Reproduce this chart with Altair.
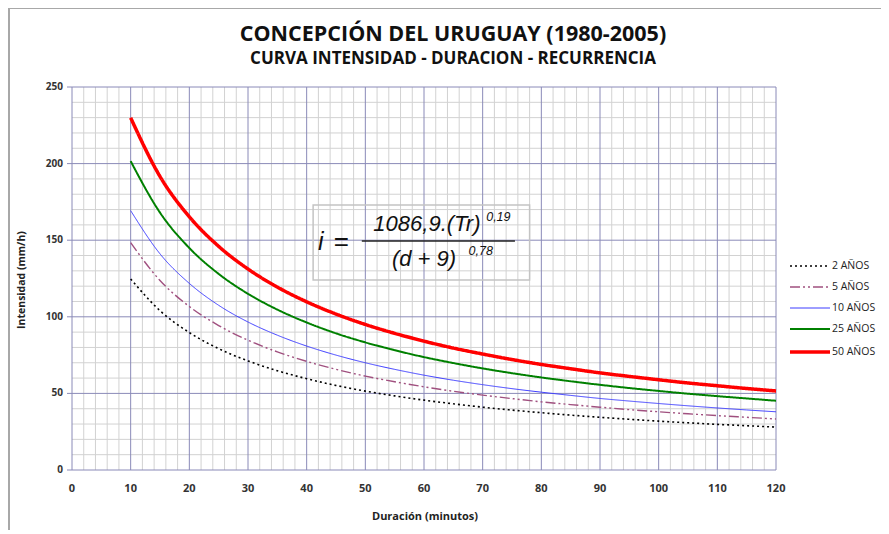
import altair as alt
import pandas as pd

# ---- data ----
durations = [10, 15, 20, 25, 30, 35, 40, 45, 50, 55, 60, 65, 70, 75, 80, 85, 90, 95, 100, 105, 110, 115, 120]
i_2 = [124.7, 104.0, 89.7, 79.2, 71.2, 64.8, 59.6, 55.2, 51.5, 48.4, 45.6, 43.2, 41.0, 39.1, 37.4, 35.8, 34.4, 33.1, 31.9, 30.8, 29.8, 28.9, 28.0]
i_5 = [148.4, 123.7, 106.7, 94.3, 84.7, 77.1, 70.9, 65.7, 61.3, 57.6, 54.3, 51.4, 48.9, 46.6, 44.5, 42.7, 41.0, 39.4, 38.0, 36.7, 35.5, 34.4, 33.3]
i_10 = [169.3, 141.1, 121.8, 107.5, 96.6, 88.0, 80.9, 75.0, 70.0, 65.7, 61.9, 58.6, 55.7, 53.1, 50.8, 48.7, 46.7, 45.0, 43.4, 41.9, 40.5, 39.2, 38.0]
i_25 = [201.6, 168.0, 144.9, 128.0, 115.0, 104.7, 96.3, 89.2, 83.3, 78.2, 73.7, 69.8, 66.3, 63.2, 60.4, 57.9, 55.6, 53.5, 51.6, 49.8, 48.2, 46.7, 45.2]
i_50 = [229.9, 191.6, 165.3, 146.0, 131.2, 119.4, 109.8, 101.8, 95.0, 89.2, 84.1, 79.6, 75.7, 72.1, 68.9, 66.1, 63.4, 61.1, 58.9, 56.8, 55.0, 53.2, 51.6]
series_names = ["2 AÑOS", "5 AÑOS", "10 AÑOS", "25 AÑOS", "50 AÑOS"]

x_major = list(range(0, 121, 10))
x_minor = [v for v in range(0, 121, 2) if v % 10]
y_major = list(range(0, 251, 50))
y_minor = [v for v in range(0, 251, 10) if v % 50]

title_text = "CONCEPCIÓN DEL URUGUAY (1980-2005)"
subtitle_text = "CURVA INTENSIDAD - DURACION - RECURRENCIA"
x_title = "Duración (minutos)"
y_title = "Intensidad (mm/h)"

# ---- styles ----
colors = ["#000000", "#a0507f", "#3c3cff", "#008000", "#ff0000"]
dashes = [[2, 3], [10, 3, 2, 3, 2, 3], [1, 0], [1, 0], [1, 0]]
widths = [1.6, 1.4, 1.0, 2.0, 3.5]
MAJOR = "#8a8ab8"
MINOR = "#d2d2d2"
LABEL_FONT = "Open Sans"
TEXT_COLOR = "#333333"

rows = []
for name, vals, w in zip(series_names, [i_2, i_5, i_10, i_25, i_50], widths):
    for d, v in zip(durations, vals):
        rows.append({"d": d, "i": v, "serie": name, "w": w})
df = pd.DataFrame(rows)

xs = alt.Scale(domain=[0, 120], nice=False, zero=False)
ys = alt.Scale(domain=[0, 250], nice=False)

# ---- grid (rules from the tick lists) ----
def vgrid(vals, color):
    return alt.Chart(pd.DataFrame({"v": vals})).mark_rule(color=color, strokeWidth=1).encode(
        x=alt.X("v:Q", scale=xs, axis=None))

def hgrid(vals, color):
    return alt.Chart(pd.DataFrame({"v": vals})).mark_rule(color=color, strokeWidth=1).encode(
        y=alt.Y("v:Q", scale=ys, axis=None))

grid = [vgrid(x_minor, MINOR), hgrid(y_minor, MINOR), vgrid(x_major, MAJOR), hgrid(y_major, MAJOR)]

# ---- axis labels, ticks and titles (positioned through the scales) ----
x_lab = alt.Chart(pd.DataFrame({"v": x_major})).mark_text(
    font=LABEL_FONT, fontSize=11, fontWeight="bold", color=TEXT_COLOR, baseline="middle", align="center"
).encode(x=alt.X("v:Q", scale=xs, axis=None), y=alt.value(402), text=alt.Text("v:Q", format="d"))

y_lab = alt.Chart(pd.DataFrame({"v": y_major})).mark_text(
    font=LABEL_FONT, fontSize=10, fontWeight="bold", color=TEXT_COLOR, baseline="middle", align="right"
).encode(y=alt.Y("v:Q", scale=ys, axis=None), x=alt.value(-9), text=alt.Text("v:Q", format="d"))

y_ticks = alt.Chart(pd.DataFrame({"v": y_major})).mark_rule(color=MAJOR, strokeWidth=1).encode(
    y=alt.Y("v:Q", scale=ys, axis=None), x=alt.value(-5), x2=alt.value(0))

x_title_mark = alt.Chart(pd.DataFrame({"t": [x_title]})).mark_text(
    font=LABEL_FONT, fontSize=11, fontWeight="bold", color="#222222", align="center", baseline="middle"
).encode(x=alt.value(353), y=alt.value(430), text="t:N")

y_title_mark = alt.Chart(pd.DataFrame({"t": [y_title]})).mark_text(
    font=LABEL_FONT, fontSize=10.5, fontWeight="bold", color="#222222", align="center", baseline="middle",
    angle=270
).encode(x=alt.value(-50), y=alt.value(193), text="t:N")

# ---- curves ----
width_expr = "[" + ",".join(str(w) for w in widths) + "][indexof([" + ",".join(
    "'" + s + "'" for s in series_names) + "], datum.value)]"

leg = alt.Legend(orient="none", legendX=760, legendY=179, title=None,
                 symbolType="M-4.2,0L-0.2,0", symbolSize=400, labelOffset=0,
                 labelFont=LABEL_FONT, labelFontSize=10.5, labelColor="#222222", rowPadding=10,
                 symbolStrokeWidth=alt.ExprRef(expr=width_expr))

lines = alt.Chart(df).mark_line(interpolate="monotone").encode(
    x=alt.X("d:Q", scale=xs, axis=None),
    y=alt.Y("i:Q", scale=ys, axis=None),
    color=alt.Color("serie:N", scale=alt.Scale(domain=series_names, range=colors), legend=leg),
    strokeDash=alt.StrokeDash("serie:N", scale=alt.Scale(domain=series_names, range=dashes), legend=leg),
    strokeWidth=alt.StrokeWidth("w:Q", scale=None),
)

# ---- formula annotation (in data coordinates) ----
box = alt.Chart(pd.DataFrame({"x": [41.1], "x2": [78.0], "y": [173.0], "y2": [124.0]})).mark_rect(
    fill="transparent", stroke="#c4c4c4", strokeWidth=1.5
).encode(x=alt.X("x:Q", scale=xs, axis=None), x2="x2:Q", y=alt.Y("y:Q", scale=ys, axis=None), y2="y2:Q")

frac = alt.Chart(pd.DataFrame({"x": [49.4], "x2": [75.5], "y": [149.5]})).mark_rule(
    color="#222222", strokeWidth=1.6
).encode(x=alt.X("x:Q", scale=xs, axis=None), x2="x2:Q", y=alt.Y("y:Q", scale=ys, axis=None))

formula_parts = pd.DataFrame({
    "t": ["i", "=", "1086,9.(Tr)", "0,19", "(d + 9)", "0,78"],
    "x": [42.4, 45.9, 60.5, 70.6, 60.0, 67.6],
    "y": [148.6, 148.6, 160.6, 165.3, 137.7, 143.0],
    "s": [25, 26, 22, 12.5, 22, 12.5],
    "a": ["center", "center", "center", "left", "center", "left"],
})

def ftext(k):
    r = formula_parts.iloc[k:k + 1]
    row = r.iloc[0]
    return alt.Chart(r).mark_text(
        font="Liberation Sans", fontStyle="normal" if row["t"] == "=" else "italic",
        fontSize=float(row["s"]), align=row["a"], baseline="middle", color="#111111"
    ).encode(x=alt.X("x:Q", scale=xs, axis=None), y=alt.Y("y:Q", scale=ys, axis=None), text="t:N")

texts = [ftext(k) for k in range(len(formula_parts))]

# ---- titles and outer frame (pixel placement) ----
one = pd.DataFrame({"a": [0]})
title_mark = alt.Chart(pd.DataFrame({"t": [title_text]})).mark_text(
    font=LABEL_FONT, fontSize=21.5, fontWeight="bold", color="#111111", align="center", baseline="middle"
).encode(x=alt.value(381), y=alt.value(-52), text="t:N")
subtitle_mark = alt.Chart(pd.DataFrame({"t": [subtitle_text]})).mark_text(
    font=LABEL_FONT, fontSize=17, fontWeight="bold", color="#111111", align="center", baseline="middle"
).encode(x=alt.value(381), y=alt.value(-28), text="t:N")

frame_top = alt.Chart(one).mark_rule(color="#a8a8a8", strokeWidth=2).encode(
    x=alt.value(-63), x2=alt.value(815), y=alt.value(-79))
frame_left = alt.Chart(one).mark_rule(color="#a8a8a8", strokeWidth=2).encode(
    x=alt.value(-63), y=alt.value(-79), y2=alt.value(452))

chart = alt.layer(
    *grid, y_ticks, lines, box, frac, *texts, x_lab, y_lab, x_title_mark, y_title_mark,
    title_mark, subtitle_mark, frame_top, frame_left
).properties(
    width=704, height=383,
    background="white",
    autosize=alt.AutoSizeParams(type="none"),
    padding={"left": 64, "top": 79, "right": 105, "bottom": 60},
).configure_view(stroke=None)

chart.save("out.html", embed_options={"renderer": "svg", "actions": False})
